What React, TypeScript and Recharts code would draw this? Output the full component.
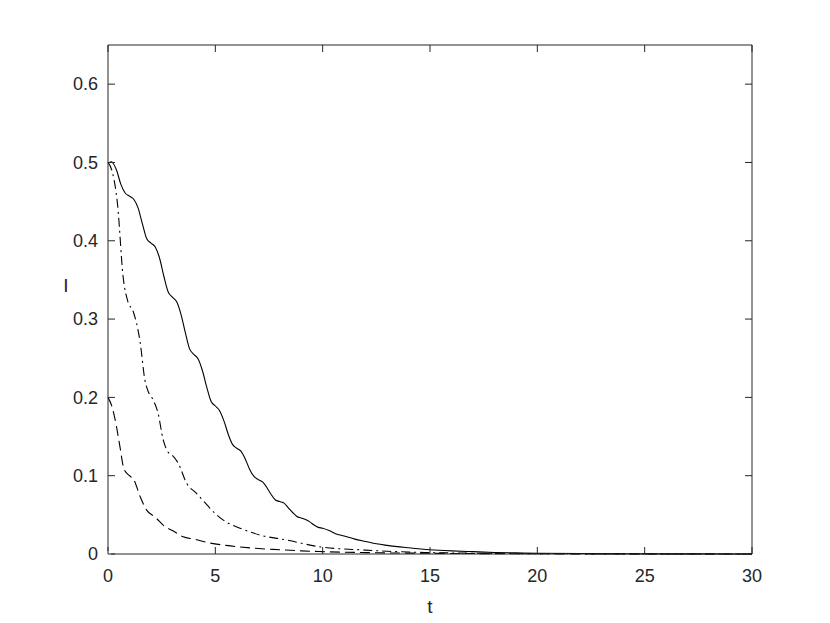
import { Line, LineChart, XAxis, YAxis } from "recharts";

// solid curve
const tSolid = [0, 0.15, 0.4, 0.6, 0.8, 1.0, 1.2, 1.4, 1.6, 1.8, 2.0, 2.2, 2.4, 2.6, 2.8, 3.0, 3.2, 3.4, 3.6, 3.8, 4.0, 4.2, 4.4, 4.6, 4.8, 5.0, 5.2, 5.4, 5.6, 5.8, 6.0, 6.2, 6.4, 6.6, 6.8, 7.0, 7.2, 7.4, 7.6, 7.8, 8.0, 8.2, 8.4, 8.6, 8.8, 9.0, 9.2, 9.4, 9.6, 9.8, 10, 10.3, 10.6, 11, 11.5, 12, 12.5, 13, 14, 15, 16, 17, 18, 19, 20, 22, 24, 26, 28, 30];
const iSolid = [0.499, 0.501, 0.49, 0.472, 0.461, 0.457, 0.453, 0.442, 0.422, 0.403, 0.397, 0.392, 0.378, 0.355, 0.335, 0.328, 0.322, 0.306, 0.283, 0.262, 0.255, 0.249, 0.234, 0.213, 0.195, 0.189, 0.183, 0.17, 0.153, 0.14, 0.135, 0.131, 0.121, 0.108, 0.099, 0.095, 0.092, 0.085, 0.076, 0.069, 0.067, 0.065, 0.059, 0.053, 0.048, 0.046, 0.044, 0.041, 0.037, 0.034, 0.033, 0.03, 0.026, 0.023, 0.019, 0.016, 0.013, 0.011, 0.008, 0.0055, 0.004, 0.003, 0.002, 0.0014, 0.001, 0.0006, 0.0003, 0.0002, 0.0001, 0];

// dash-dot curve
const tDashDot = [0, 0.2, 0.45, 0.7, 0.93, 1.17, 1.5, 1.72, 1.88, 2.1, 2.33, 2.57, 2.8, 3.0, 3.27, 3.67, 4.1, 4.6, 5.06, 5.5, 6.15, 7.1, 8.3, 9.9, 12, 13, 14, 15, 17, 20, 25, 30];
const iDashDot = [0.5, 0.488, 0.445, 0.355, 0.322, 0.31, 0.27, 0.222, 0.207, 0.197, 0.18, 0.146, 0.13, 0.126, 0.116, 0.09, 0.078, 0.063, 0.05, 0.041, 0.033, 0.024, 0.018, 0.009, 0.005, 0.0035, 0.0025, 0.0018, 0.001, 0.0004, 0.0001, 0];

// dashed curve
const tDashed = [0, 0.2, 0.4, 0.55, 0.75, 1.0, 1.2, 1.5, 1.8, 2.2, 2.65, 3.0, 3.5, 4.0, 4.75, 5.5, 6.15, 7, 8, 9, 10, 12, 15, 20, 25, 30];
const iDashed = [0.2, 0.187, 0.162, 0.138, 0.108, 0.1, 0.095, 0.073, 0.056, 0.047, 0.035, 0.03, 0.022, 0.019, 0.014, 0.011, 0.009, 0.007, 0.0055, 0.004, 0.003, 0.0018, 0.0009, 0.0003, 0.0001, 0];

const xTicks = [0, 5, 10, 15, 20, 25, 30];
const yTicks = [0, 0.1, 0.2, 0.3, 0.4, 0.5, 0.6];

const toRows = (ts: number[], vs: number[]) => ts.map((t, i) => ({ t, I: vs[i] }));

const AXIS = "#262626";
const FONT = "'Liberation Sans', Arial, sans-serif";

const BottomTick = ({ x, y, payload }: any) => (
  <g>
    <line x1={x} y1={y} x2={x} y2={y - 7} stroke={AXIS} />
    <text x={x} y={y + 15} dy="0.71em" textAnchor="middle" fill={AXIS} fontSize={18} fontFamily={FONT}>
      {payload.value}
    </text>
  </g>
);

const LeftTick = ({ x, y, payload }: any) => (
  <g>
    <line x1={x} y1={y} x2={x + 7} y2={y} stroke={AXIS} />
    <text x={x - 10} y={y} dy="0.35em" textAnchor="end" fill={AXIS} fontSize={18} fontFamily={FONT}>
      {payload.value}
    </text>
  </g>
);

const TopTick = ({ x, y }: any) => <line x1={x} y1={y} x2={x} y2={y + 7} stroke={AXIS} />;
const RightTick = ({ x, y }: any) => <line x1={x} y1={y} x2={x - 7} y2={y} stroke={AXIS} />;

export default function App() {
  return (
    <div style={{ position: "absolute", left: 0, top: 0, background: "#fff" }}>
      <LineChart width={830} height={623} margin={{ top: 35, right: 68, bottom: 39, left: 68 }}>
        <XAxis
          dataKey="t"
          type="number"
          domain={[0, 30]}
          ticks={xTicks}
          height={30}
          tickSize={0}
          tickMargin={0}
          tickLine={false}
          stroke={AXIS}
          tick={BottomTick}
          allowDuplicatedCategory={false}
          label={() => (
            <text x={430} y={613} textAnchor="middle" fill={AXIS} fontSize={19} fontFamily={FONT}>
              t
            </text>
          )}
        />
        <XAxis
          xAxisId="top"
          orientation="top"
          dataKey="t"
          type="number"
          domain={[0, 30]}
          ticks={xTicks}
          height={10}
          tickSize={0}
          tickMargin={0}
          tickLine={false}
          stroke={AXIS}
          tick={TopTick}
          allowDuplicatedCategory={false}
        />
        <YAxis
          type="number"
          domain={[0, 0.65]}
          ticks={yTicks}
          width={40}
          tickSize={0}
          tickMargin={0}
          tickLine={false}
          stroke={AXIS}
          tick={LeftTick}
          label={() => (
            <text x={66} y={292} textAnchor="middle" fill={AXIS} fontSize={19} fontFamily={FONT}>
              I
            </text>
          )}
        />
        <YAxis
          yAxisId="r"
          orientation="right"
          type="number"
          domain={[0, 0.65]}
          ticks={yTicks}
          width={10}
          tickSize={0}
          tickMargin={0}
          tickLine={false}
          stroke={AXIS}
          tick={RightTick}
        />
        <Line
          data={toRows(tSolid, iSolid)}
          dataKey="I"
          type="monotone"
          stroke="#000"
          strokeWidth={1.1}
          dot={false}
          isAnimationActive={false}
        />
        <Line
          data={toRows(tDashDot, iDashDot)}
          dataKey="I"
          type="monotone"
          stroke="#000"
          strokeWidth={1.1}
          strokeDasharray="9 4 2 4"
          dot={false}
          isAnimationActive={false}
        />
        <Line
          data={toRows(tDashed, iDashed)}
          dataKey="I"
          type="monotone"
          stroke="#000"
          strokeWidth={1.1}
          strokeDasharray="10 5"
          dot={false}
          isAnimationActive={false}
        />
        <Line
          xAxisId="top"
          yAxisId="r"
          data={[{ t: 0, I: 0 }]}
          dataKey="I"
          stroke="none"
          dot={false}
          legendType="none"
          isAnimationActive={false}
        />
      </LineChart>
    </div>
  );
}
